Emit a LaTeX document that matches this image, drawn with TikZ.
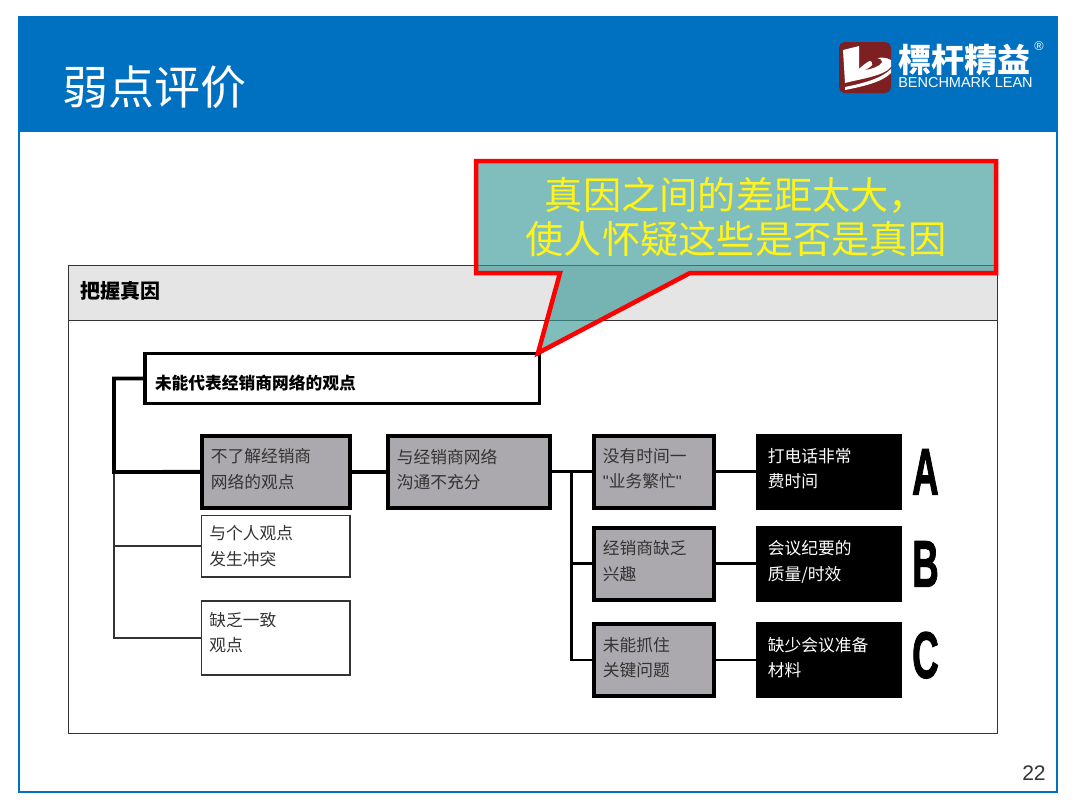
\documentclass[tikz,border=0pt]{standalone}
\usepackage{fontspec}
\usepackage{xcolor}
\usetikzlibrary{positioning}
\setmainfont{Noto Sans CJK SC}
\newfontfamily\latinfont{Liberation Sans}
\newfontfamily\gradefont[FakeBold=2]{Liberation Sans Bold}
\newfontfamily\logofont{Noto Sans CJK TC}
\definecolor{headblue}{HTML}{0070C0}
\definecolor{logored}{HTML}{7E1F22}
\definecolor{boxgray}{HTML}{ABA9AD}
\definecolor{textgray}{HTML}{333333}
\definecolor{calloutteal}{HTML}{3C9A9A}

\begin{document}
\begin{tikzpicture}[
    x=0.025cm, y=-0.025cm,
    treefont/.style={font=\fontsize{11.9}{17.8}\selectfont},
    rootbox/.style={draw, line width=2.6pt, fill=white, outer sep=0pt, align=left,
                inner xsep=0.25cm, inner ysep=0pt, text width=9.36cm, minimum height=1.25cm,
                font=\fontsize{11.9}{14}\selectfont\bfseries,
                execute at begin node={\rule{0pt}{17pt}}},
    graybox/.style={draw, line width=2.8pt, fill=boxgray, text=textgray, outer sep=0pt,
                align=left, inner xsep=0.225cm, inner ysep=0pt, text width=#1-0.45cm,
                minimum height=1.8cm, treefont,
                execute at end node={\rule[-5pt]{0pt}{0pt}}},
    whitebox/.style={draw=textgray, line width=1.1pt, fill=white, text=textgray, outer sep=0pt,
                align=left, inner xsep=0.2cm, inner ysep=0pt, text width=3.32cm,
                minimum height=#1, treefont},
    blackbox/.style={fill=black, text=white, outer sep=0pt, align=left, inner xsep=0.3cm,
                inner ysep=0pt, text width=3.05cm, minimum height=1.92cm, treefont,
                execute at end node={\rule[-5pt]{0pt}{0pt}}},
    grade/.style={inner sep=0pt, xscale=0.56, transform shape,
                font=\fontsize{46.7}{46.7}\gradefont},
    thickline/.style={line width=2.8pt},
    midline/.style={line width=2.1pt},
    thinline/.style={draw=textgray, line width=1.1pt}
]
  \useasboundingbox (0,0) rectangle (1080,810);
  % slide frame
  \fill[headblue] (18,16) rectangle (1058,132);
  \draw[headblue, line width=2pt] (19,17) rectangle (1057,792);
  \node[anchor=west, inner sep=0pt, text=white, font=\fontsize{32.7}{36}\selectfont] (title) at (62,87) {弱点评价};
  \node[anchor=east, inner sep=0pt, text=textgray, font=\fontsize{15}{18}\latinfont] (pageno) at (1046,773) {22};

  % logo
  \fill[logored, rounded corners=4pt] (839,42) rectangle (891,93);
  \fill[white] (843,50) -- (859,46) -- (859,69) .. controls (868,60) and (880,54) .. (891,60)
     -- (891,67) .. controls (884,76) and (860,79) .. (845,83) -- cycle;
  \fill[logored] (867,60) .. controls (874,56) and (882,58) .. (882,62)
     .. controls (880,66) and (872,69) .. (865,70) .. controls (872,67) and (877,62) .. (867,60) -- cycle;
  \fill[white] (845,87) .. controls (865,83) and (882,78) .. (891,69)
     -- (891,73) .. controls (882,82) and (865,86) .. (845,90) -- cycle;
  \node[anchor=west, inner sep=0pt, text=white, font=\fontsize{23.5}{26}\logofont\bfseries] (logoname) at (898,60) {標杆精益};
  \node[anchor=west, inner sep=0pt, text=white, font=\fontsize{10.3}{11}\latinfont] (logoen) at (898,83) {BENCHMARK LEAN};
  \node[inner sep=0pt, text=white, font=\fontsize{9}{10}\latinfont] (logoreg) at (1039,46) {®};

  % panel
  \filldraw[draw=textgray, fill=black!10, line width=0.7pt] (68,265) rectangle (997,320);
  \draw[textgray, line width=0.7pt] (68,320) rectangle (997,733);
  \node[anchor=west, inner sep=0pt, font=\fontsize{14.2}{16}\selectfont\bfseries] (panelhead) at (80,291) {把握真因};

  % tree
  \node[rootbox, anchor=north west] (root) at (145,353.5) {未能代表经销商网络的观点};
  \node[graybox=3.7cm, below right=0.81cm and 1.42cm of root.south west] (notknow) {不了解经销商\\网络的观点};
  \node[whitebox=1.53cm, below=0.19cm of notknow] (conflict) {与个人观点\\发生冲突};
  \node[whitebox=1.84cm, below=0.61cm of conflict,
        execute at end node={\rule[-8pt]{0pt}{0pt}}] (nocommon) {缺乏一致\\观点};
  \node[graybox=4.05cm, right=0.95cm of notknow] (comm) {与经销商网络\\沟通不充分};
  \node[graybox=3.0cm, right=1.1cm of comm] (notime) {没有时间一\\{\latinfont"}业务繁忙{\latinfont"}};
  \node[graybox=3.0cm, below=0.5cm of notime] (nointerest) {经销商缺乏\\兴趣};
  \node[graybox=3.0cm, below=0.6cm of nointerest] (nofocus) {未能抓住\\关键问题};
  \node[blackbox, right=1.05cm of notime] (calls) {打电话非常\\费时间};
  \node[blackbox, right=1.05cm of nointerest] (minutes) {会议纪要的\\质量/时效};
  \node[blackbox, right=1.05cm of nofocus] (material) {缺少会议准备\\材料};
  \node[grade, right=0.25cm of calls] (gradeA) {A};
  \node[grade, right=0.25cm of minutes] (gradeB) {B};
  \node[grade, right=0.25cm of material, yshift=0.12cm] (gradeC) {C};

  \coordinate (trunk) at (114,472);
  \coordinate[right=0.55cm of comm.east] (fork);
  \draw[thinline] (trunk) |- (conflict.west);
  \draw[thinline] (trunk) |- (nocommon.west);
  \draw[thickline] (root.west) -| (trunk) -- (notknow.west);
  \draw[thickline] (notknow) -- (comm);
  \draw[midline] (comm) -- (notime);
  \draw[midline] (fork) |- (nointerest.west);
  \draw[midline] (fork) |- (nofocus.west);
  \draw[midline] (notime) -- (calls);
  \draw[midline] (nointerest) -- (minutes);
  \draw[midline] (nofocus) -- (material);

  % callout
  \draw[draw=red, line width=3.2pt, fill=calloutteal, fill opacity=0.65, miter limit=20]
    (476,161) -- (996,161) -- (996,273) -- (690,273) -- (538,353) -- (560,273) -- (476,273) -- cycle;
  \node[align=center, inner sep=0pt, text=yellow!90!white, font=\fontsize{27.2}{31.3}\selectfont] (calloutlabel) at (736,217)
    {真因之间的差距太大，\\使人怀疑这些是否是真因};
\end{tikzpicture}
\end{document}
